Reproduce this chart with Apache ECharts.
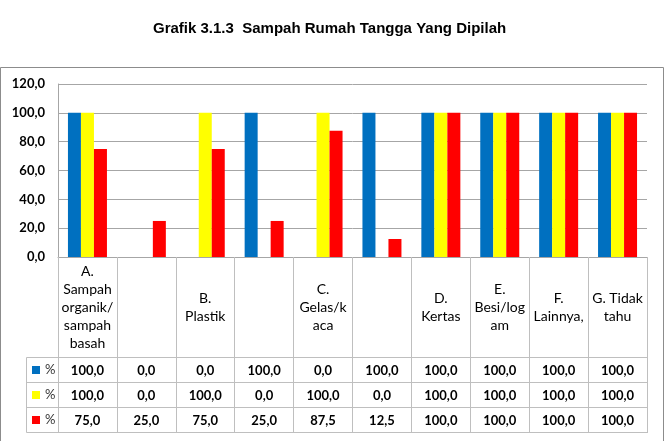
<!DOCTYPE html>
<html>
<head>
<meta charset="utf-8">
<script src="https://cdn.jsdelivr.net/npm/echarts@6/dist/echarts.min.js"></script>
<style>
html,body{margin:0;padding:0;background:#fff;}
#chart{width:669px;height:441px;}
</style>
</head>
<body>
<div id="chart"></div>
<script>
const titleText = 'Grafik 3.1.3  Sampah Rumah Tangga Yang Dipilah';
const categories = [
  'A.\nSampah\norganik/\nsampah\nbasah', '', 'B.\nPlastik', '', 'C.\nGelas/k\naca', '',
  'D.\nKertas', 'E.\nBesi/log\nam', 'F.\nLainnya,', 'G. Tidak\ntahu'
];
const seriesNames = ['% (biru)', '% (kuning)', '% (merah)'];
const blueValues   = [100, 0, 0, 100, 0, 100, 100, 100, 100, 100];
const yellowValues = [100, 0, 100, 0, 100, 0, 100, 100, 100, 100];
const redValues    = [75, 25, 75, 25, 87.5, 12.5, 100, 100, 100, 100];
const yTicks = { min: 0, max: 120, interval: 20 };

const colors = ['#0070C0', '#FFFF00', '#FF0000'];
const fmt = v => v.toFixed(1).replace('.', ',');
const tableFont = 'Lato, "Open Sans", sans-serif';
const lineCol = '#bfbfbf';

const chart = echarts.init(document.getElementById('chart'));
const allValues = [blueValues, yellowValues, redValues];
const rowMargins = [113.5, 138.5, 163.5];

const valueAxes = allValues.map((vals, k) => ({
  type: 'category',
  data: categories,
  position: 'bottom',
  axisLine: { show: false },
  axisTick: { show: false },
  splitLine: { show: false },
  axisLabel: {
    interval: 0, hideOverlap: false,
    margin: rowMargins[k], verticalAlign: 'middle',
    fontFamily: tableFont, fontWeight: 'bold', fontSize: 13, color: '#000',
    formatter: (v, i) => fmt(vals[i])
  }
}));

const hLines = [357.5, 382.5, 407.5, 432.5].map(y => ({
  type: 'line', silent: true,
  shape: { x1: 26.5, y1: y, x2: 647.5, y2: y },
  style: { stroke: lineCol, lineWidth: 1 }
}));

chart.setOption({
  animation: false,
  title: {
    text: titleText, left: 153, top: 21, padding: 0,
    textStyle: { fontFamily: '"Liberation Sans Narrow", "Liberation Sans", Arial, sans-serif', fontWeight: 'bold', fontSize: 15, color: '#000' }
  },
  legend: {
    orient: 'vertical', left: 32, top: 363, padding: 0,
    itemWidth: 8, itemHeight: 8, itemGap: 11, icon: 'rect',
    data: seriesNames,
    formatter: () => '%',
    textStyle: { fontFamily: tableFont, fontSize: 13, color: '#333', lineHeight: 14 },
    selectedMode: false
  },
  grid: { left: 58, right: 22, top: 84, bottom: 184 },
  xAxis: [{
    type: 'category',
    data: categories,
    axisLine: { show: true, lineStyle: { color: '#a6a6a6' } },
    axisTick: { show: true, length: 176, interval: 0, lineStyle: { color: lineCol } },
    axisLabel: {
      interval: 0, hideOverlap: false,
      margin: 50, verticalAlign: 'middle', lineHeight: 18,
      fontFamily: tableFont, fontSize: 14, color: '#000'
    }
  }].concat(valueAxes),
  yAxis: {
    type: 'value', min: yTicks.min, max: yTicks.max, interval: yTicks.interval,
    axisLine: { show: true, lineStyle: { color: '#a6a6a6' } },
    axisTick: { show: false },
    splitLine: { lineStyle: { color: '#a6a6a6' } },
    axisLabel: {
      margin: 13, formatter: v => fmt(v),
      fontFamily: tableFont, fontWeight: 'bold', fontSize: 13, color: '#000'
    }
  },
  series: allValues.map((vals, k) => ({
    name: seriesNames[k], type: 'bar', data: vals,
    barWidth: 13, barGap: '0%',
    itemStyle: { color: colors[k] }
  })),
  graphic: [
    { type: 'rect', silent: true, shape: { x: 0.5, y: 67.5, width: 663, height: 390 },
      style: { fill: 'none', stroke: '#8c8c8c', lineWidth: 1 } },
    { type: 'line', silent: true, shape: { x1: 26.5, y1: 357.5, x2: 26.5, y2: 432.5 },
      style: { stroke: lineCol, lineWidth: 1 } }
  ].concat(hLines)
});
</script>
</body>
</html>
